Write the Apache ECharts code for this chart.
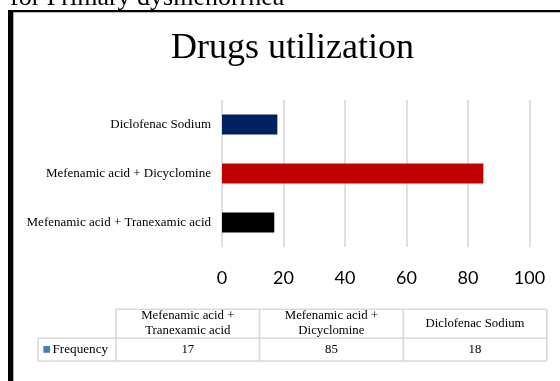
<!DOCTYPE html>
<html>
<head>
<meta charset="utf-8">
<script src="https://cdn.jsdelivr.net/npm/echarts@6/dist/echarts.min.js"></script>
<style>
  html, body { margin: 0; padding: 0; background: #fff; }
  #chart { width: 560px; height: 381px; }
</style>
</head>
<body>
<div id="chart"></div>
<script>
// categories bottom -> top, same order as the data table
var categories = ['Mefenamic acid + Tranexamic acid', 'Mefenamic acid + Dicyclomine', 'Diclofenac Sodium'];
var frequency = [17, 85, 18];
var barColors = ['#000000', '#C00000', '#002060'];
var seriesName = 'Frequency';
var xMin = 0, xMax = 100, xStep = 20;

var serif = '"Liberation Serif", "Times New Roman", serif';
var lineColor = '#d9d9d9';

// data table geometry
var tabLeft = 116, colW = 143.6, legLeft = 38;
var rowTop = 309.3, rowMid = 338.3, rowBot = 361;
var tabRight = tabLeft + colW * categories.length;

var graphics = [
  // page caption cut off at the top + frame
  { type: 'text', x: 10, y: -1.5,
    style: { text: 'for Primary dysmenorrhea', font: '26px ' + serif, fill: '#000', verticalAlign: 'middle', align: 'left' } },
  { type: 'rect', shape: { x: 8, y: 10, width: 552, height: 2.3 }, style: { fill: '#000' } },
  { type: 'rect', shape: { x: 8, y: 10, width: 5.3, height: 371 }, style: { fill: '#000' } },
  // chart title
  { type: 'text', x: 292.5, y: 48.3,
    style: { text: 'Drugs utilization', font: '36px ' + serif, fill: '#000', align: 'center', verticalAlign: 'middle' } }
];

function hline(x1, x2, y) {
  return { type: 'line', shape: { x1: x1, y1: y, x2: x2, y2: y }, style: { stroke: lineColor, lineWidth: 1.6 } };
}
function vline(x, y1, y2) {
  return { type: 'line', shape: { x1: x, y1: y1, x2: x, y2: y2 }, style: { stroke: lineColor, lineWidth: 1.6 } };
}

graphics.push(hline(tabLeft, tabRight, rowTop));
graphics.push(hline(legLeft, tabRight, rowMid));
graphics.push(hline(legLeft, tabRight, rowBot));
graphics.push(vline(legLeft, rowMid, rowBot));
for (var c = 0; c <= categories.length; c++) {
  graphics.push(vline(tabLeft + colW * c, rowTop, rowBot));
}
categories.forEach(function(name, i) {
  var cx = tabLeft + colW * (i + 0.5);
  graphics.push({ type: 'text', x: cx, y: 323.3,
    style: { text: name.replace(' + ', ' +\n'), font: '12.8px ' + serif, fill: '#000',
      align: 'center', verticalAlign: 'middle', lineHeight: 15.5 } });
  graphics.push({ type: 'text', x: cx, y: 349.5,
    style: { text: String(frequency[i]), font: '12.8px ' + serif, fill: '#000', align: 'center', verticalAlign: 'middle' } });
});
// legend key in the table
graphics.push({ type: 'rect', shape: { x: 43.3, y: 346, width: 6.8, height: 6.8 }, style: { fill: '#4a7ebb' } });
graphics.push({ type: 'text', x: 52.5, y: 349.5,
  style: { text: seriesName, font: '13.2px ' + serif, fill: '#000', align: 'left', verticalAlign: 'middle' } });

var chart = echarts.init(document.getElementById('chart'), null, { renderer: 'canvas' });
chart.setOption({
  animation: false,
  grid: { left: 222, right: 30.5, top: 100, bottom: 134, containLabel: false },
  xAxis: {
    type: 'value',
    min: xMin, max: xMax, interval: xStep,
    axisLine: { show: false },
    axisTick: { show: false },
    axisLabel: { color: '#000', fontFamily: 'Lato, "Open Sans", sans-serif', fontSize: 18, margin: 22 },
    splitLine: { show: true, lineStyle: { color: lineColor, width: 1.6 } }
  },
  yAxis: {
    type: 'category',
    data: categories,
    axisLine: { show: false },
    axisTick: { show: false },
    axisLabel: { color: '#000', fontFamily: serif, fontSize: 13, margin: 11 }
  },
  series: [{
    name: seriesName,
    type: 'bar',
    barWidth: 20,
    data: frequency.map(function(v, i) {
      return { value: v, itemStyle: { color: barColors[i] } };
    })
  }],
  graphic: graphics
});
</script>
</body>
</html>
